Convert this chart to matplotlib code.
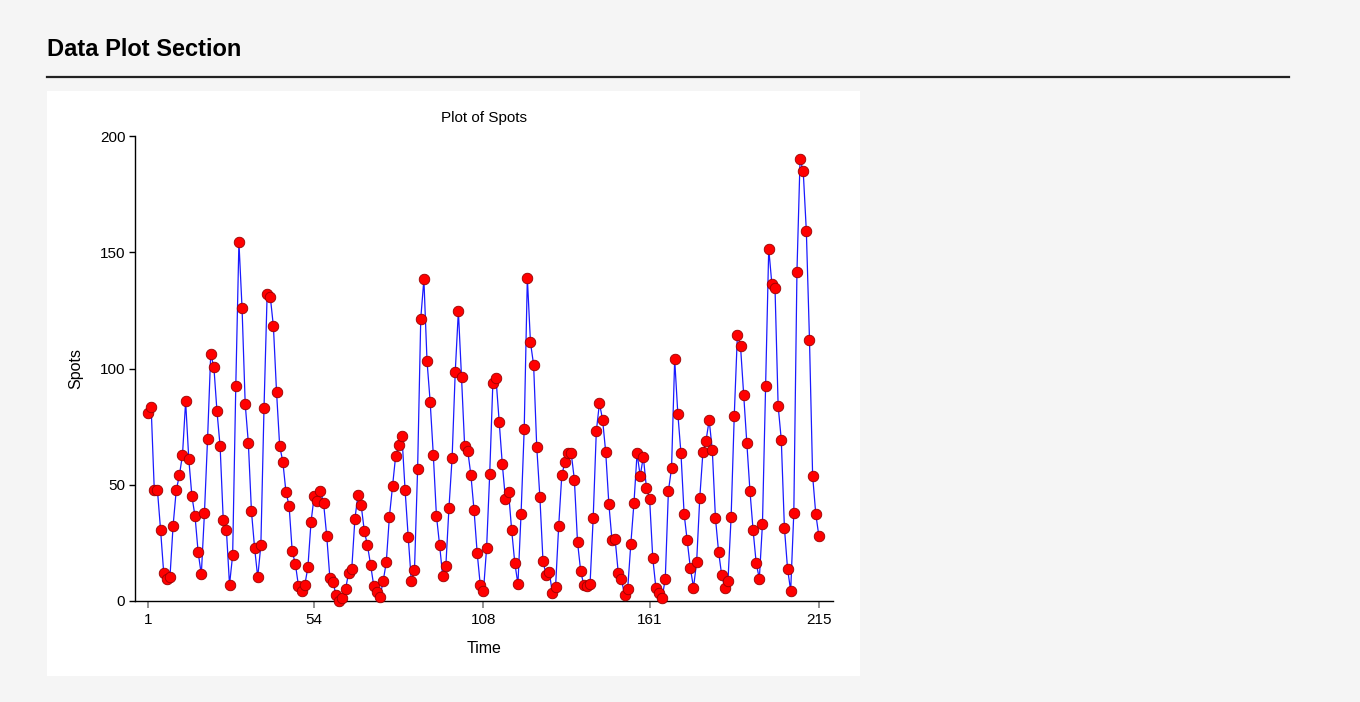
import matplotlib
matplotlib.use("Agg")
import matplotlib.pyplot as plt
from matplotlib.patches import Rectangle
from matplotlib.lines import Line2D
import numpy as np

plt.rcParams['font.family'] = ['Liberation Sans', 'DejaVu Sans']

# annual sunspot numbers, 215 observations
spots = [
    80.9, 83.4, 47.7, 47.8, 30.7, 12.2, 9.6, 10.2, 32.4, 47.6,
    54.0, 62.9, 85.9, 61.2, 45.1, 36.4, 20.9, 11.4, 37.8, 69.8,
    106.1, 100.8, 81.6, 66.5, 34.8, 30.6, 7.0, 19.8, 92.5, 154.4,
    125.9, 84.8, 68.1, 38.5, 22.8, 10.2, 24.1, 82.9, 132.0, 130.9,
    118.1, 89.9, 66.6, 60.0, 46.9, 41.0, 21.3, 16.0, 6.4, 4.1,
    6.8, 14.5, 34.0, 45.0, 43.1, 47.5, 42.2, 28.1, 10.1, 8.1,
    2.5, 0.0, 1.4, 5.0, 12.2, 13.9, 35.4, 45.8, 41.1, 30.1,
    23.9, 15.6, 6.6, 4.0, 1.8, 8.5, 16.6, 36.3, 49.6, 62.5,
    67.0, 70.9, 47.8, 27.5, 8.5, 13.2, 56.9, 121.5, 138.3, 103.2,
    85.7, 63.0, 36.7, 24.2, 10.7, 15.0, 40.1, 61.5, 98.5, 124.7,
    96.3, 66.6, 64.5, 54.1, 39.0, 20.6, 6.7, 4.3, 22.7, 54.8,
    93.8, 95.8, 77.2, 59.1, 44.0, 47.0, 30.5, 16.3, 7.3, 37.6,
    74.0, 139.0, 111.2, 101.6, 66.2, 44.7, 17.0, 11.3, 12.4, 3.4,
    6.0, 32.3, 54.3, 59.7, 63.7, 63.5, 52.2, 25.4, 13.1, 6.8,
    6.3, 7.1, 35.6, 73.0, 85.1, 78.0, 64.0, 41.8, 26.2, 26.7,
    12.1, 9.5, 2.7, 5.0, 24.4, 42.0, 63.5, 53.8, 62.0, 48.5,
    43.9, 18.6, 5.7, 3.6, 1.4, 9.6, 47.4, 57.1, 103.9, 80.6,
    63.6, 37.6, 26.1, 14.2, 5.8, 16.7, 44.3, 63.9, 69.0, 77.8,
    64.9, 35.7, 21.2, 11.1, 5.7, 8.7, 36.1, 79.7, 114.4, 109.6,
    88.8, 67.8, 47.5, 30.6, 16.3, 9.6, 33.2, 92.6, 151.6, 136.3,
    134.7, 83.9, 69.4, 31.5, 13.9, 4.4, 38.0, 141.7, 190.2, 184.8,
    159.0, 112.3, 53.9, 37.5, 27.9,
]
time = np.arange(1, len(spots) + 1)
x_ticks = [1, 54, 108, 161, 215]
y_ticks = [0, 50, 100, 150, 200]

W, H = 1360, 702
fig = plt.figure(figsize=(W / 100, H / 100), dpi=100)
fig.patch.set_facecolor('#f5f5f5')

# section header and rule
fig.text(47 / W, 1 - 50 / H, 'Data Plot Section', fontsize=17, fontweight='bold',
         va='center', ha='left', color='black')
fig.add_artist(Line2D([47 / W, 1289 / W], [1 - 77 / H, 1 - 77 / H], color='#222222', lw=1.6))

# white panel behind the chart
fig.add_artist(Rectangle((47 / W, 1 - 676 / H), (860 - 47) / W, (676 - 91) / H,
                         facecolor='white', edgecolor='none', transform=fig.transFigure, zorder=0))

ax = fig.add_axes([135 / W, 1 - 601 / H, (833 - 135) / W, (601 - 136) / H])
ax.set_facecolor('none')
ax.plot(time, spots, color='#1a1aff', lw=0.9, zorder=2)
ax.plot(time, spots, 'o', color='red', markeredgecolor='#990000', markeredgewidth=0.6,
        markersize=7.6, zorder=3, clip_on=False)

ax.set_xlim(-3.15, 219.5)
ax.set_ylim(0, 200)
ax.set_xticks(x_ticks)
ax.set_yticks(y_ticks)
for s in ['top', 'right']:
    ax.spines[s].set_visible(False)
ax.spines['left'].set_linewidth(1.0)
ax.spines['bottom'].set_linewidth(1.0)
ax.tick_params(axis='x', colors='#808080', labelcolor='black', length=5, width=1.2, labelsize=11, pad=4)
ax.tick_params(axis='y', length=4, width=1.0, labelsize=11, pad=3)
ax.set_xlabel('Time', fontsize=11.5, labelpad=10)
ax.set_ylabel('Spots', fontsize=11.5, labelpad=12)
ax.set_title('Plot of Spots', fontsize=11, pad=10)

fig.savefig('out.png', dpi=100, facecolor=fig.get_facecolor())
